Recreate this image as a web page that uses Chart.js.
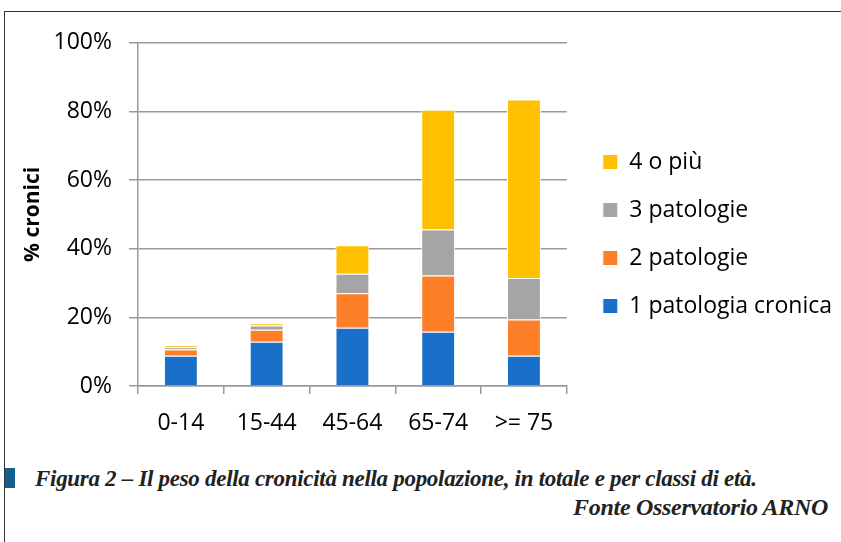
<!DOCTYPE html>
<html>
<head>
<meta charset="utf-8">
<script src="https://cdn.jsdelivr.net/npm/chart.js@4.4.0/dist/chart.umd.min.js"></script>
<style>
  html, body { margin: 0; padding: 0; background: #fff; }
  body { width: 841px; height: 542px; position: relative; overflow: hidden; }
  .frame { position: absolute; left: 4px; top: 11px; right: -2px; bottom: -2px; border: 1px solid #333; }
  .chart-box { position: absolute; left: 5px; top: 12px; width: 836px; height: 430px; }
  .caption, .source { position: absolute; font-family: "Liberation Serif", serif; font-style: italic; font-weight: bold; font-size: 23px; color: #222; letter-spacing: -0.3px; white-space: nowrap; }
  .caption { left: 35px; top: 466px; }
  .source { right: 13px; top: 494px; font-size: 24px; }
  .mark { position: absolute; left: 5px; top: 468px; width: 10px; height: 20px; background: #135e8b; }
</style>
</head>
<body>
<div class="frame"></div>
<div class="chart-box"><canvas id="myChart"></canvas></div>
<div class="mark"></div>
<div class="caption">Figura 2 – Il peso della cronicità nella popolazione, in totale e per classi di età.</div>
<div class="source">Fonte Osservatorio ARNO</div>
<script>
// age classes and share of chronic patients (%)
const ageClasses = ['0-14', '15-44', '45-64', '65-74', '>= 75'];
const onePathology = [8.8, 12.9, 17.0, 15.8, 8.8];
const twoPathologies = [1.8, 3.5, 10.0, 16.4, 10.6];
const threePathologies = [0.7, 1.2, 5.7, 13.4, 12.1];
const fourOrMore = [0.5, 0.7, 8.3, 34.9, 52.0];
const yTicks = [0, 20, 40, 60, 80, 100];

const font = '"Open Sans", sans-serif';

function ds(label, data, color) {
    return {
        label: label,
        data: data,
        backgroundColor: color,
        borderColor: '#ffffff',
        borderWidth: 1,
        barPercentage: 0.395,
        categoryPercentage: 1
    };
}

// nudge the legend a bit away from the plot (and widen its clip box to match)
const legendShift = {
    id: 'legendShift',
    afterLayout(chart) {
        const lg = chart.legend;
        lg.left += 11;
        lg.right += 11;
        lg.top -= 8;
        lg.bottom -= 8;
    }
};

const ctx = document.getElementById('myChart').getContext('2d');
const myChart = new Chart(ctx, {
    type: 'bar',
    data: {
        labels: ageClasses,
        datasets: [
            ds('1 patologia cronica', onePathology, '#1a70c8'),
            ds('2 patologie', twoPathologies, '#fd7f27'),
            ds('3 patologie', threePathologies, '#a5a5a5'),
            ds('4 o più', fourOrMore, '#ffc000')
        ]
    },
    plugins: [legendShift],
    options: {
        responsive: true,
        maintainAspectRatio: false,
        animation: false,
        layout: {
            padding: { top: 30, right: 10, bottom: 0, left: 0 }
        },
        scales: {
            x: {
                stacked: true,
                afterFit: function(axis) { axis.height = 56; },
                grid: {
                    offset: true,
                    drawOnChartArea: false,
                    drawTicks: true,
                    tickLength: 8,
                    color: '#999',
                    lineWidth: 1.5
                },
                border: { display: true, color: '#999', width: 1.5 },
                ticks: {
                    color: '#000',
                    font: { family: font, size: 23 },
                    padding: 16
                }
            },
            y: {
                stacked: true,
                min: 0,
                max: 100,
                afterFit: function(axis) { axis.width = 133; },
                afterBuildTicks: function(axis) {
                    axis.ticks = yTicks.map(function(v) { return { value: v }; });
                },
                grid: {
                    color: '#999',
                    lineWidth: 1.5,
                    tickLength: 9
                },
                border: { display: true, color: '#999', width: 1.5 },
                ticks: {
                    color: '#000',
                    font: { family: font, size: 23 },
                    padding: 17,
                    callback: function(v) { return v + '%'; }
                },
                title: {
                    display: true,
                    text: '% cronici',
                    color: '#000',
                    font: { family: font, size: 21, weight: 'bold' },
                    padding: { top: 15, bottom: 0 }
                }
            }
        },
        plugins: {
            legend: {
                position: 'right',
                reverse: true,
                maxWidth: 320,
                labels: {
                    boxWidth: 15,
                    boxHeight: 15,
                    padding: 25,
                    color: '#000',
                    font: { family: font, size: 23 }
                }
            },
            tooltip: { enabled: false }
        }
    }
});
</script>
</body>
</html>
